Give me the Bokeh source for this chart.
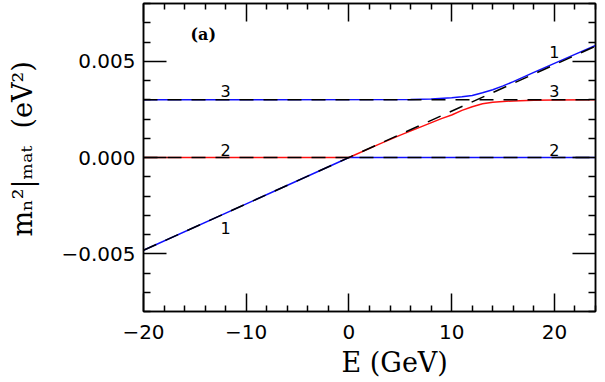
from bokeh.plotting import figure
from bokeh.models import (LinearAxis, FixedTicker, Range1d, Label, Title)
from bokeh.embed import file_html
from bokeh.resources import INLINE

# ---------------- data ----------------
E_range = [-20, 24]
level3_m2 = [0.003, 0.003]          # dashed unperturbed level "3"
level2_m2 = [0.0, 0.0]              # dashed unperturbed level "2"
diag_E = [-20, 24]                  # dashed unperturbed level "1" (matter term)
diag_m2 = [-0.00482, 0.00578]

blue_low_E = [-20, 0, 24]
blue_low_m2 = [-0.00482, 0.0, 0.0]

red_E = [-20, 0, 3, 5, 7, 9, 10, 11, 12, 13, 14, 15, 16, 18, 20, 24]
red_m2 = [0.0, 0.0, 0.00071, 0.00116, 0.00159, 0.00202, 0.00221, 0.00245,
          0.00264, 0.00279, 0.00287, 0.00291, 0.00294, 0.00297, 0.00299, 0.003]

blue_up_E = [-20, 6, 8, 10, 11, 12, 13, 14, 15, 16, 18, 20, 22, 24]
blue_up_m2 = [0.003, 0.00301, 0.00304, 0.0031, 0.00315, 0.00322, 0.00336,
              0.00352, 0.00372, 0.00394, 0.00442, 0.00489, 0.00536, 0.00582]

x_major = [-20, -10, 0, 10, 20]
x_minor = [-18, -16, -14, -12, -8, -6, -4, -2, 2, 4, 6, 8, 12, 14, 16, 18, 22, 24]
x_labels = {-20: "\u221220", -10: "\u221210", 0: "0", 10: "10", 20: "20"}
y_major = [-0.005, 0.0, 0.005]
y_minor = [-0.008, -0.007, -0.006, -0.004, -0.003, -0.002, -0.001,
           0.001, 0.002, 0.003, 0.004, 0.006, 0.007, 0.008]
y_labels = {-0.005: "\u22120.005", 0.0: "0.000", 0.005: "0.005"}

x_title = "E (GeV)"
y_title = "\u00a0\u00a0m\u2099\u00b2|\u2098\u2090\u209c\u00a0\u00a0(eV\u00b2)"
panel_tag = "(a)"

curve_labels = [  # (text, E, m2, baseline)
    ("3", -12, 0.00312, "bottom"),
    ("2", -12, 0.00006, "bottom"),
    ("1", -12, -0.00368, "middle"),
    ("1", 20, 0.00548, "middle"),
    ("3", 20, 0.00312, "bottom"),
    ("2", 20, 0.00006, "bottom"),
]

# ---------------- layout ----------------
W, H = 597, 380
FL, FR, FT, FB = 143, 595, 3, 316
X0, X1, Y0, Y1 = -20, 24, -0.008, 0.008

def dx(px):
    return X0 + (px - FL) * (X1 - X0) / (FR - FL)

def dy(py):
    return Y1 - (py - FT) * (Y1 - Y0) / (FB - FT)

p = figure(width=W, height=H, output_backend="svg", toolbar_location=None,
           x_range=Range1d(X0, X1), y_range=Range1d(Y0, Y1),
           x_axis_location=None, y_axis_location=None,
           min_border_left=FL, min_border_right=W - FR,
           min_border_top=FT, min_border_bottom=H - FB)
p.grid.visible = False
p.outline_line_color = "black"
p.outline_line_width = 1.5
p.background_fill_color = "white"
p.border_fill_color = "white"

def make_axis(ticks, minor, overrides, major_len, minor_len, show_labels, standoff):
    ax = LinearAxis(ticker=FixedTicker(ticks=ticks, minor_ticks=minor))
    ax.major_tick_in = major_len
    ax.major_tick_out = 0
    ax.minor_tick_in = minor_len
    ax.minor_tick_out = 0
    ax.major_tick_line_width = 1.5
    ax.minor_tick_line_width = 1.5
    ax.axis_line_width = 1.5
    ax.major_tick_line_color = "black"
    ax.minor_tick_line_color = "black"
    ax.axis_line_color = "black"
    if show_labels:
        ax.major_label_overrides = overrides
        ax.major_label_text_font = "DejaVu Sans"
        ax.major_label_text_font_size = "20px"
        ax.major_label_text_color = "black"
        ax.major_label_standoff = standoff
    else:
        ax.major_label_text_font_size = "0px"
        ax.major_label_standoff = 0
        ax.major_label_overrides = {t: "" for t in ticks}
    return ax

xb = make_axis(x_major, x_minor, x_labels, 18, 6, True, 13)
yl = make_axis(y_major, y_minor, y_labels, 23, 7, True, 8)
yl.axis_label = y_title
yl.axis_label_text_font = "DejaVu Serif"
yl.axis_label_text_font_size = "27px"
yl.axis_label_text_font_style = "normal"
yl.axis_label_text_color = "black"
yl.axis_label_standoff = 20

p.add_layout(xb, "below")
p.add_layout(make_axis(x_major, x_minor, x_labels, 18, 6, False, 0), "above")
p.add_layout(yl, "left")
p.add_layout(make_axis(y_major, y_minor, y_labels, 23, 7, False, 0), "right")

p.add_layout(Title(text=x_title, align="left", offset=198, standoff=6,
                   text_font="DejaVu Serif", text_font_size="27px",
                   text_font_style="normal", text_color="black"), "below")

# colored exact curves
p.line(blue_low_E, blue_low_m2, line_color="#1010ff", line_width=1.5)
p.line(blue_up_E, blue_up_m2, line_color="#1010ff", line_width=1.5)
p.line(red_E, red_m2, line_color="#ff1010", line_width=1.5)

# dashed unperturbed levels
for xs, ys in [(E_range, level3_m2), (E_range, level2_m2), (diag_E, diag_m2)]:
    p.line(xs, ys, line_color="black", line_width=1.5, line_dash="14 10")

for txt, e, m2, base in curve_labels:
    p.add_layout(Label(x=e, y=m2, text=txt, text_align="center",
                       text_baseline=base, text_font="DejaVu Sans",
                       text_font_size="16px", text_color="black"))

p.add_layout(Label(x=dx(190), y=dy(35), text=panel_tag, text_align="left",
                   text_baseline="alphabetic", text_font="DejaVu Serif",
                   text_font_size="16px", text_font_style="bold",
                   text_color="black"))

open("out.html", "w").write(file_html(p, INLINE))
